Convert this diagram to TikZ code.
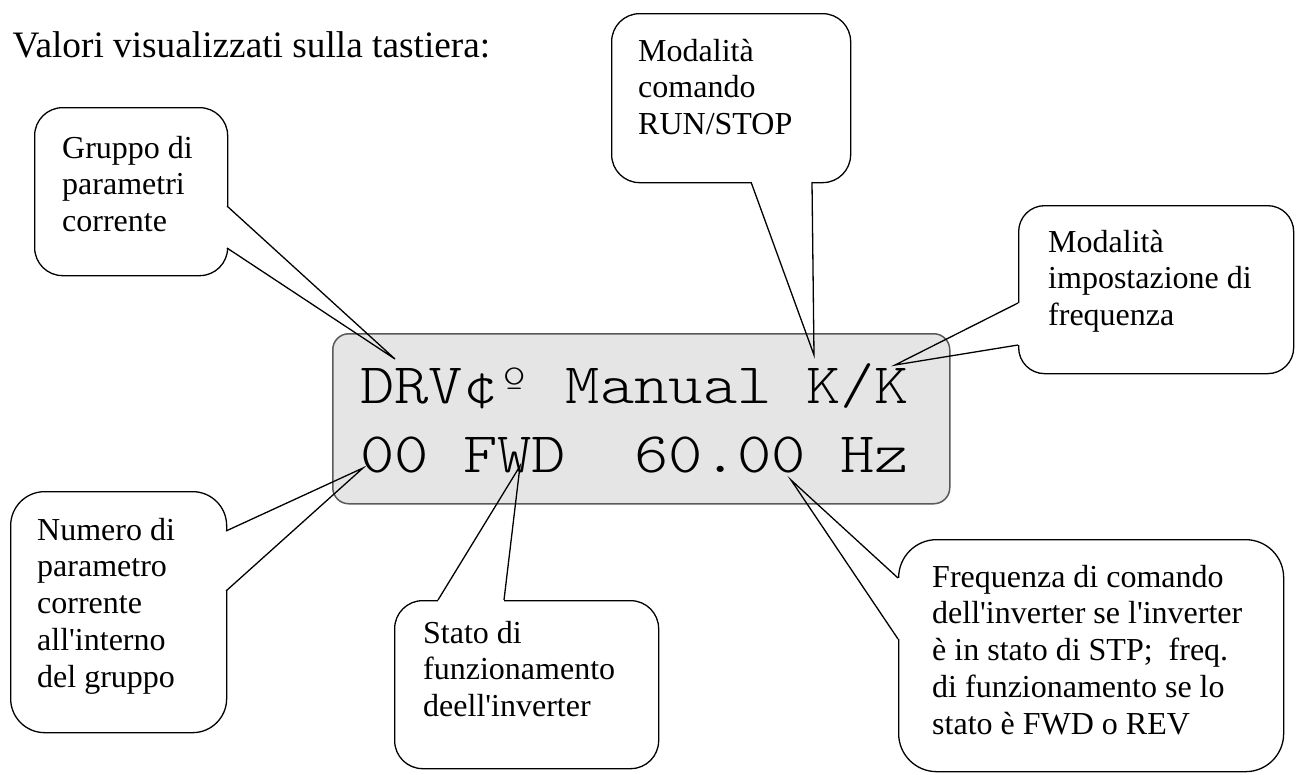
\documentclass[tikz,border=0pt]{standalone}
\usepackage{fontspec}
\newfontfamily\callfont{Liberation Serif}
\newfontfamily\lcdfont{lmmonolt10-regular.otf}[FakeStretch=1.14]
\begin{document}
\begin{tikzpicture}[x=1pt,y=-1pt,
  bubble/.style={draw=black, line width=1.3pt, fill=white, rounded corners=#1, anchor=north west, inner sep=0pt},
  txt/.style={font={\callfont\fontsize{32}{36.8}\selectfont}, align=left, inner sep=0pt, anchor=north west},
  lcdtxt/.style={font={\lcdfont\fontsize{57.3}{60}\selectfont}, inner sep=0pt, anchor=base west},
  ptr/.style={draw=black, line width=1.3pt, line join=miter},
  cover/.style={fill=white}]
\useasboundingbox (0,0) rectangle (1296,774);

% title
\node[font={\callfont\fontsize{37.3}{42}\selectfont}, inner sep=0pt, anchor=base west] (title) at (12.5,57) {Valori visualizzati sulla tastiera:};

% LCD display
\node[draw=black!65, fill=gray!20, line width=1.5pt, rounded corners=16pt, minimum width=617pt, minimum height=170pt, anchor=north west, inner sep=0pt] (lcd) at (332,333) {};
\node[lcdtxt] (line1) at (360,403) {DRV¢º Manual K/K};
\node[lcdtxt] (line2) at (360,472) {00 FWD\ \ 60.00 Hz};

% callout A
\node[bubble=28pt, minimum width=193pt, minimum height=168pt] (A) at (34,107) {};
\node[txt] (Atext) at (62,132.2) {\strut Gruppo di\\parametri\\corrente};
\coordinate (A1) at (227,206); \coordinate (A2) at (227,248); \coordinate (At) at (395,359);
\fill[cover] (224,206) rectangle (230,248);
\draw[ptr] (A1) -- (At) -- (A2);

% callout B
\node[bubble=28pt, minimum width=239pt, minimum height=169pt] (B) at (611,13) {};
\node[txt] (Btext) at (638,35.2) {\strut Modalità\\comando\\RUN/STOP};
\coordinate (B1) at (751,182); \coordinate (B2) at (812,182); \coordinate (Bt) at (814,355);
\fill[cover] (751,179) rectangle (812,185);
\draw[ptr] (B1) -- (Bt) -- (B2);

% callout C
\node[bubble=26pt, minimum width=275pt, minimum height=168pt] (C) at (1018,205) {};
\node[txt] (Ctext) at (1048,226.2) {\strut Modalità\\impostazione di\\frequenza};
\coordinate (C1) at (1018,303); \coordinate (C2) at (1018,345); \coordinate (Ct) at (895,365);
\fill[cover] (1015,303) rectangle (1021,345);
\draw[ptr] (C1) -- (Ct) -- (C2);

% callout D
\node[bubble=34pt, minimum width=216pt, minimum height=241pt] (D) at (10,491) {};
\node[txt] (Dtext) at (37,514.2) {\strut Numero di\\parametro\\corrente\\all'interno\\del gruppo};
\coordinate (D1) at (226,531); \coordinate (D2) at (226,591); \coordinate (Dt) at (363,468);
\fill[cover] (223,531) rectangle (229,591);
\draw[ptr] (D1) -- (Dt) -- (D2);

% callout E
\node[bubble=28pt, minimum width=264pt, minimum height=168pt] (E) at (394,600) {};
\node[txt] (Etext) at (423,617.2) {\strut Stato di\\funzionamento\\deell'inverter};
\coordinate (E1) at (438,600); \coordinate (E2) at (504,600); \coordinate (Et) at (520,466);
\fill[cover] (438,597) rectangle (504,603);
\draw[ptr] (E1) -- (Et) -- (E2);

% callout F
\node[bubble=38pt, minimum width=385pt, minimum height=232pt] (F) at (898,539) {};
\node[txt] (Ftext) at (932,561.2) {\strut Frequenza di comando\\dell'inverter se l'inverter\\è in stato di STP;\ \ freq.\\di funzionamento se lo\\stato è FWD o REV};
\coordinate (F1) at (898,578); \coordinate (F2) at (898,639); \coordinate (Ft) at (791,480);
\fill[cover] (895,578) rectangle (901,639);
\draw[ptr] (F1) -- (Ft) -- (F2);
\end{tikzpicture}
\end{document}
